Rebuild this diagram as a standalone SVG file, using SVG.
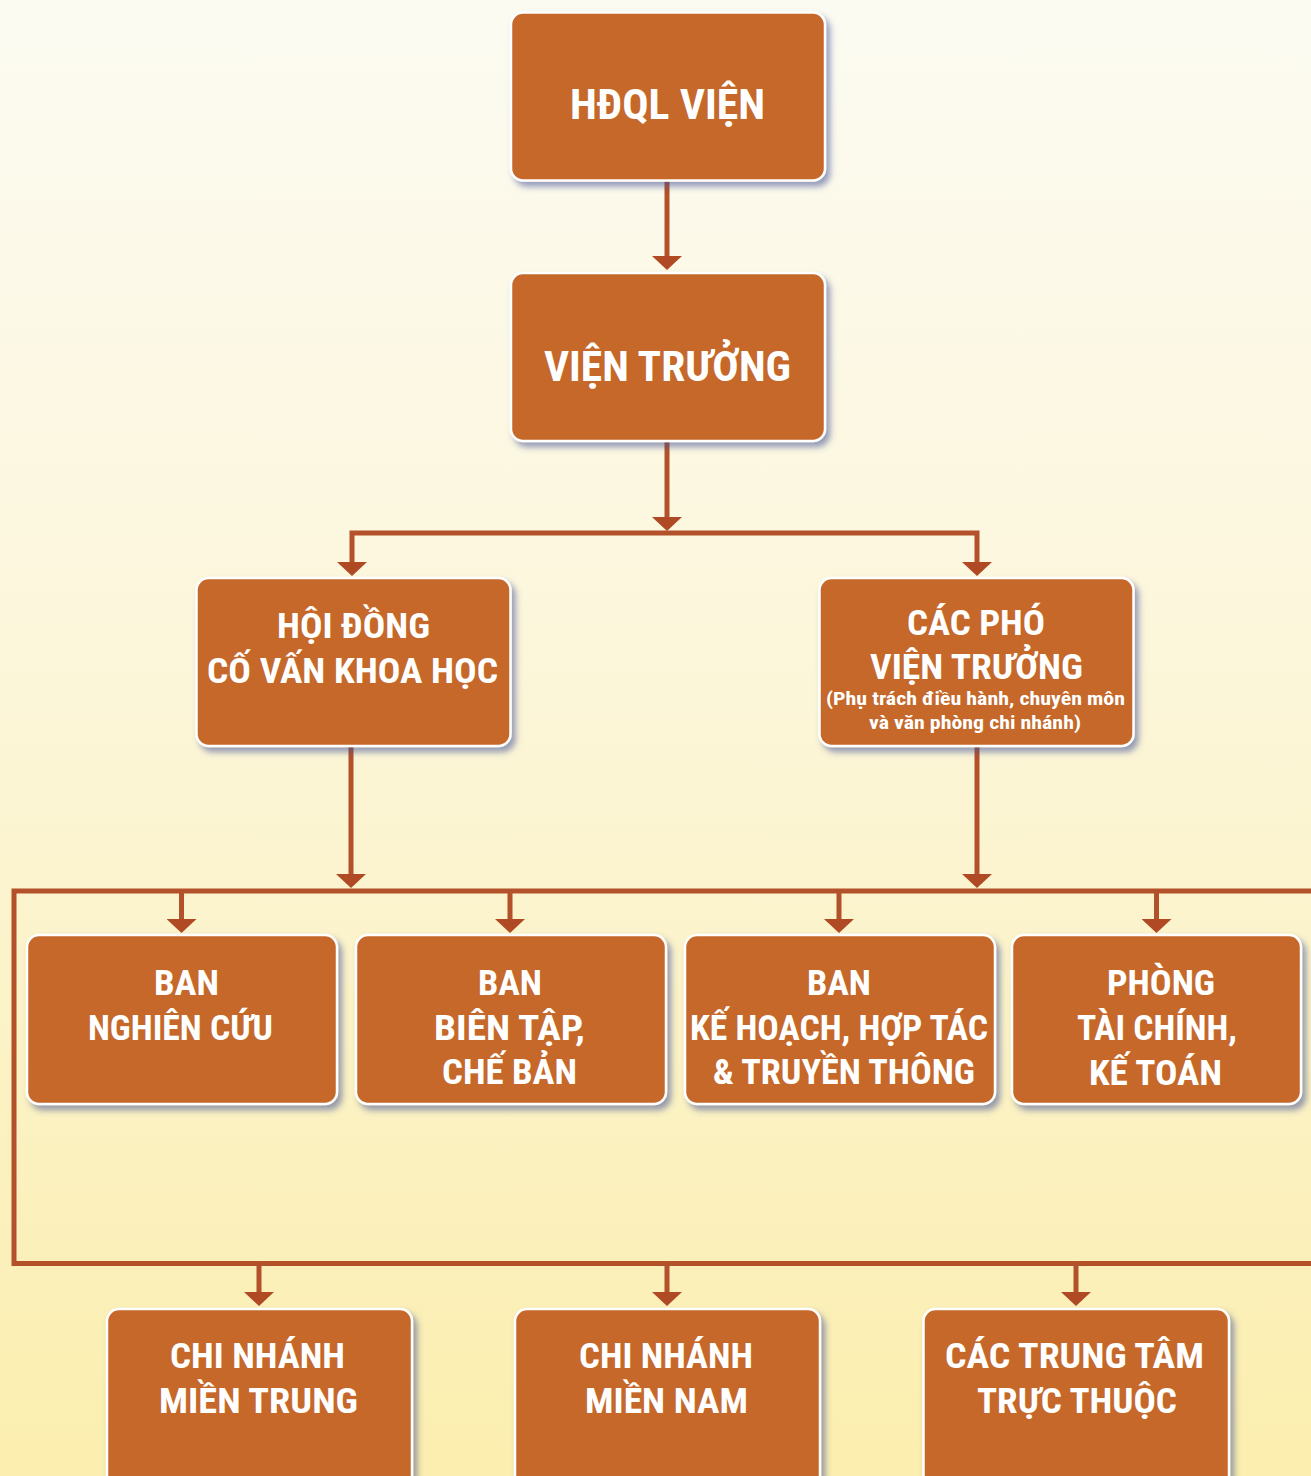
<svg xmlns="http://www.w3.org/2000/svg" width="1311" height="1476" viewBox="0 0 1311 1476">
<defs>
<linearGradient id="bg" x1="0" y1="0" x2="0" y2="1">
<stop offset="0" stop-color="#fcfbf2"/>
<stop offset="0.45" stop-color="#fcf6da"/>
<stop offset="1" stop-color="#fbeeae"/>
</linearGradient>
<filter id="sh" x="-10%" y="-10%" width="125%" height="130%">
<feDropShadow dx="4" dy="5" stdDeviation="3" flood-color="#3f4f96" flood-opacity="0.55"/>
</filter>
<marker id="ah" markerUnits="userSpaceOnUse" viewBox="0 0 14 30" refX="11" refY="15" markerWidth="14" markerHeight="30" orient="auto-start-reverse">
<path d="M0,0 L14,15 L0,30 Z" fill="#b04a24"/>
</marker>
<style>
.box{fill:#c5672a;stroke:#ffffff;stroke-width:2.5;filter:url(#sh)}
.t{fill:#ffffff;font-family:"Liberation Sans Narrow","Roboto Condensed","DejaVu Sans Condensed","Liberation Sans",sans-serif;font-weight:bold;font-stretch:condensed}
.big{font-size:42px}
.mid{font-size:35px}
.sm{font-size:18px}
.ln{fill:none;stroke:#b3512a;stroke-width:5}
.ar{marker-end:url(#ah)}
</style>
</defs>
<rect x="0" y="0" width="1311" height="1476" fill="url(#bg)"/>

<g id="connectors">
<path class="ln ar" d="M667,181 V267"/>
<path class="ln ar" d="M667,441 V528"/>
<path class="ln" d="M352,573 V533 H977 V573" marker-start="url(#ah)" marker-end="url(#ah)"/>
<path class="ln ar" d="M351,746 V885"/>
<path class="ln ar" d="M977,746 V885"/>
<path class="ln" d="M1315,891 H14 V1263.5 H1315"/>
<path class="ln ar" d="M181.5,891 V930"/>
<path class="ln ar" d="M510,891 V930"/>
<path class="ln ar" d="M839,891 V930"/>
<path class="ln ar" d="M1156.5,891 V930"/>
<path class="ln ar" d="M259,1263.5 V1303"/>
<path class="ln ar" d="M667,1263.5 V1303"/>
<path class="ln ar" d="M1076,1263.5 V1303"/>
</g>

<g id="n-hdql">
<rect class="box" x="511" y="12.5" width="314" height="168" rx="12"/>
<text class="t big" x="570" y="119" textLength="195" lengthAdjust="spacingAndGlyphs">HĐQL VIỆN</text>
</g>

<g id="n-vientruong">
<rect class="box" x="511" y="273" width="314" height="168" rx="12"/>
<text class="t big" x="544" y="381" textLength="247" lengthAdjust="spacingAndGlyphs">VIỆN TRƯỞNG</text>
</g>

<g id="n-hoidong">
<rect class="box" x="196.5" y="578" width="314" height="168" rx="12"/>
<text class="t mid" x="277" y="638" textLength="153" lengthAdjust="spacingAndGlyphs">HỘI ĐỒNG</text>
<text class="t mid" x="207" y="683" textLength="291" lengthAdjust="spacingAndGlyphs">CỐ VẤN KHOA HỌC</text>
</g>

<g id="n-phovientruong">
<rect class="box" x="819.5" y="578" width="314" height="168" rx="12"/>
<text class="t mid" x="907" y="635" textLength="138" lengthAdjust="spacingAndGlyphs">CÁC PHÓ</text>
<text class="t mid" x="870" y="679" textLength="213" lengthAdjust="spacingAndGlyphs">VIỆN TRƯỞNG</text>
<text class="t sm" x="826" y="705" textLength="299" lengthAdjust="spacingAndGlyphs">(Phụ trách điều hành, chuyên môn</text>
<text class="t sm" x="869" y="729" textLength="212" lengthAdjust="spacingAndGlyphs">và văn phòng chi nhánh)</text>
</g>

<g id="n-bannghiencuu">
<rect class="box" x="27" y="935" width="310" height="169" rx="12"/>
<text class="t mid" x="154" y="995" textLength="65" lengthAdjust="spacingAndGlyphs">BAN</text>
<text class="t mid" x="88" y="1040" textLength="185" lengthAdjust="spacingAndGlyphs">NGHIÊN CỨU</text>
</g>

<g id="n-banbientap">
<rect class="box" x="356" y="935" width="310" height="169" rx="12"/>
<text class="t mid" x="478" y="995" textLength="64" lengthAdjust="spacingAndGlyphs">BAN</text>
<text class="t mid" x="434" y="1040" textLength="151" lengthAdjust="spacingAndGlyphs">BIÊN TẬP,</text>
<text class="t mid" x="442" y="1084" textLength="135" lengthAdjust="spacingAndGlyphs">CHẾ BẢN</text>
</g>

<g id="n-bankehoach">
<rect class="box" x="685" y="935" width="310" height="169" rx="12"/>
<text class="t mid" x="807" y="995" textLength="64" lengthAdjust="spacingAndGlyphs">BAN</text>
<text class="t mid" x="690" y="1040" textLength="298" lengthAdjust="spacingAndGlyphs">KẾ HOẠCH, HỢP TÁC</text>
<text class="t mid" x="713" y="1084" textLength="262" lengthAdjust="spacingAndGlyphs">&amp; TRUYỀN THÔNG</text>
</g>

<g id="n-phongtaichinh">
<rect class="box" x="1012" y="935" width="289" height="169" rx="12"/>
<text class="t mid" x="1107" y="995" textLength="108" lengthAdjust="spacingAndGlyphs">PHÒNG</text>
<text class="t mid" x="1077" y="1040" textLength="160" lengthAdjust="spacingAndGlyphs">TÀI CHÍNH,</text>
<text class="t mid" x="1089" y="1085" textLength="133" lengthAdjust="spacingAndGlyphs">KẾ TOÁN</text>
</g>

<g id="n-mientrung">
<rect class="box" x="107" y="1309" width="305" height="185" rx="12"/>
<text class="t mid" x="170" y="1368" textLength="175" lengthAdjust="spacingAndGlyphs">CHI NHÁNH</text>
<text class="t mid" x="159" y="1413" textLength="199" lengthAdjust="spacingAndGlyphs">MIỀN TRUNG</text>
</g>

<g id="n-miennam">
<rect class="box" x="515" y="1309" width="305" height="185" rx="12"/>
<text class="t mid" x="579" y="1368" textLength="174" lengthAdjust="spacingAndGlyphs">CHI NHÁNH</text>
<text class="t mid" x="585" y="1413" textLength="163" lengthAdjust="spacingAndGlyphs">MIỀN NAM</text>
</g>

<g id="n-trungtam">
<rect class="box" x="923.5" y="1309" width="305.5" height="185" rx="12"/>
<text class="t mid" x="945" y="1368" textLength="259" lengthAdjust="spacingAndGlyphs">CÁC TRUNG TÂM</text>
<text class="t mid" x="977" y="1413" textLength="200" lengthAdjust="spacingAndGlyphs">TRỰC THUỘC</text>
</g>
</svg>
